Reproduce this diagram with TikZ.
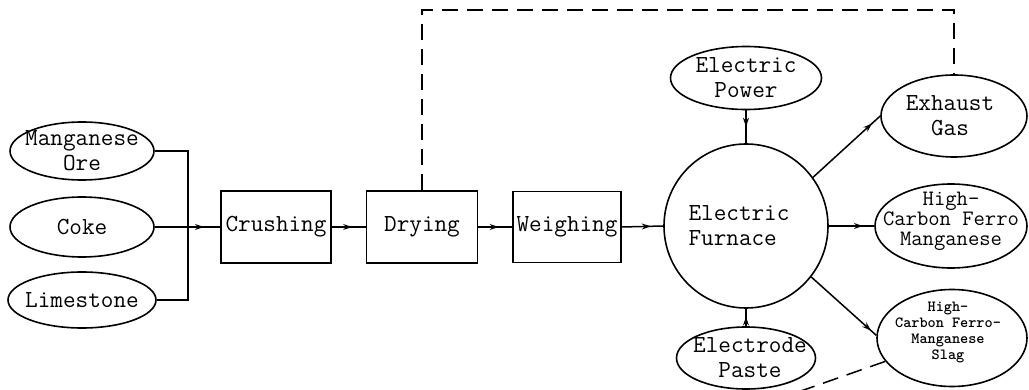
\documentclass[tikz,border=0pt]{standalone}
\usetikzlibrary{shapes.geometric,decorations.markings,arrows.meta}
\begin{document}
\begin{tikzpicture}[x=1pt,y=-1pt,
  every node/.style={font=\fontsize{24.5}{25}\selectfont\ttfamily},
  oval/.style={draw, ellipse, line width=1.6pt, inner sep=0pt},
  proc/.style={draw, rectangle, line width=1.6pt, inner sep=0pt},
  furnace/.style={draw, circle, line width=1.6pt, inner sep=0pt},
  flow/.style={line width=1.5pt},
  midarrow/.style={postaction={decorate}, decoration={markings, mark=at position #1 with {\arrow{Stealth[length=9pt,width=6pt]}}}},
  recycle/.style={line width=1.5pt, dash pattern=on 16pt off 9pt},
  smalltext/.style={font=\fontsize{15.5}{16}\selectfont\ttfamily\bfseries},
  midtext/.style={font=\fontsize{22}{20}\selectfont\ttfamily}
]
\fill[white] (0,0) rectangle (1029,390);
\useasboundingbox (0,0) rectangle (1029,390);

% raw materials
\node[oval, minimum width=144pt, minimum height=58pt,
  label={[align=center]center:Manganese\\Ore}] (ore) at (82,151) {};
\node[oval, minimum width=144pt, minimum height=60pt,
  label={[align=center]center:Coke}] (coke) at (82,227) {};
\node[oval, minimum width=148pt, minimum height=56pt,
  label={[align=center]center:Limestone}] (lime) at (82,300) {};

% process boxes
\node[proc, minimum width=110pt, minimum height=72pt] (crush) at (276,227) {Crushing};
\node[proc, minimum width=111pt, minimum height=72pt] (dry) at (422,227) {Drying};
\node[proc, minimum width=108pt, minimum height=71pt] (weigh) at (567,227) {Weighing};

% furnace
\node[furnace, minimum size=164pt,
  label={[align=left, xshift=-7pt]center:Electric\\Furnace}] (furn) at (746,226) {};

% inputs / outputs
\node[oval, minimum width=151pt, minimum height=63pt,
  label={[align=center]center:Electric\\Power}] (power) at (746,78) {};
\node[oval, minimum width=139pt, minimum height=62pt,
  label={[align=center, xshift=4pt]center:Electrode\\Paste}] (paste) at (746,358) {};
\node[oval, minimum width=146pt, minimum height=82pt,
  label={[align=center, xshift=-4pt]center:Exhaust\\Gas}] (exh) at (954,116) {};
\node[oval, minimum width=152pt, minimum height=84pt,
  label={[align=center, midtext, yshift=5pt]center:High-\\Carbon Ferro\\Manganese}] (hcfm) at (951,226) {};
\node[oval, minimum width=150pt, minimum height=97pt,
  label={[align=center, smalltext, yshift=6pt, xshift=-4pt]center:High-\\Carbon Ferro-\\Manganese\\Slag}] (slag) at (952,338) {};

% connectors, left side
\coordinate (bus) at (188,227);
\draw[flow] (ore.east) -| (bus) |- (lime.east);
\draw[flow, midarrow=0.75] (coke.east) -- (crush.west);
\draw[flow, midarrow=0.6] (crush.east) -- (dry.west);
\draw[flow, midarrow=0.6] (dry.east) -- (weigh.west);
\draw[flow, midarrow=0.7] (weigh.east) -- (furn.west);

% furnace connectors
\draw[flow, midarrow=0.5] (power.south) -- (furn.north);
\draw[flow, midarrow=0.55] (paste.north) -- (furn.south);
\draw[flow, midarrow=0.88] (furn.36) -- (exh.west);
\draw[flow, midarrow=0.75] (furn.east) -- (hcfm.west);
\draw[flow, midarrow=0.92] (furn.-38) -- (slag.178);

% recycle (dashed)
\coordinate (top) at (954,10);
\draw[recycle] (dry.north) |- (top) -- (exh.north);
\coordinate (slagout) at (798,392);
\draw[recycle] (slag) -- (slagout);
\end{tikzpicture}
\end{document}
